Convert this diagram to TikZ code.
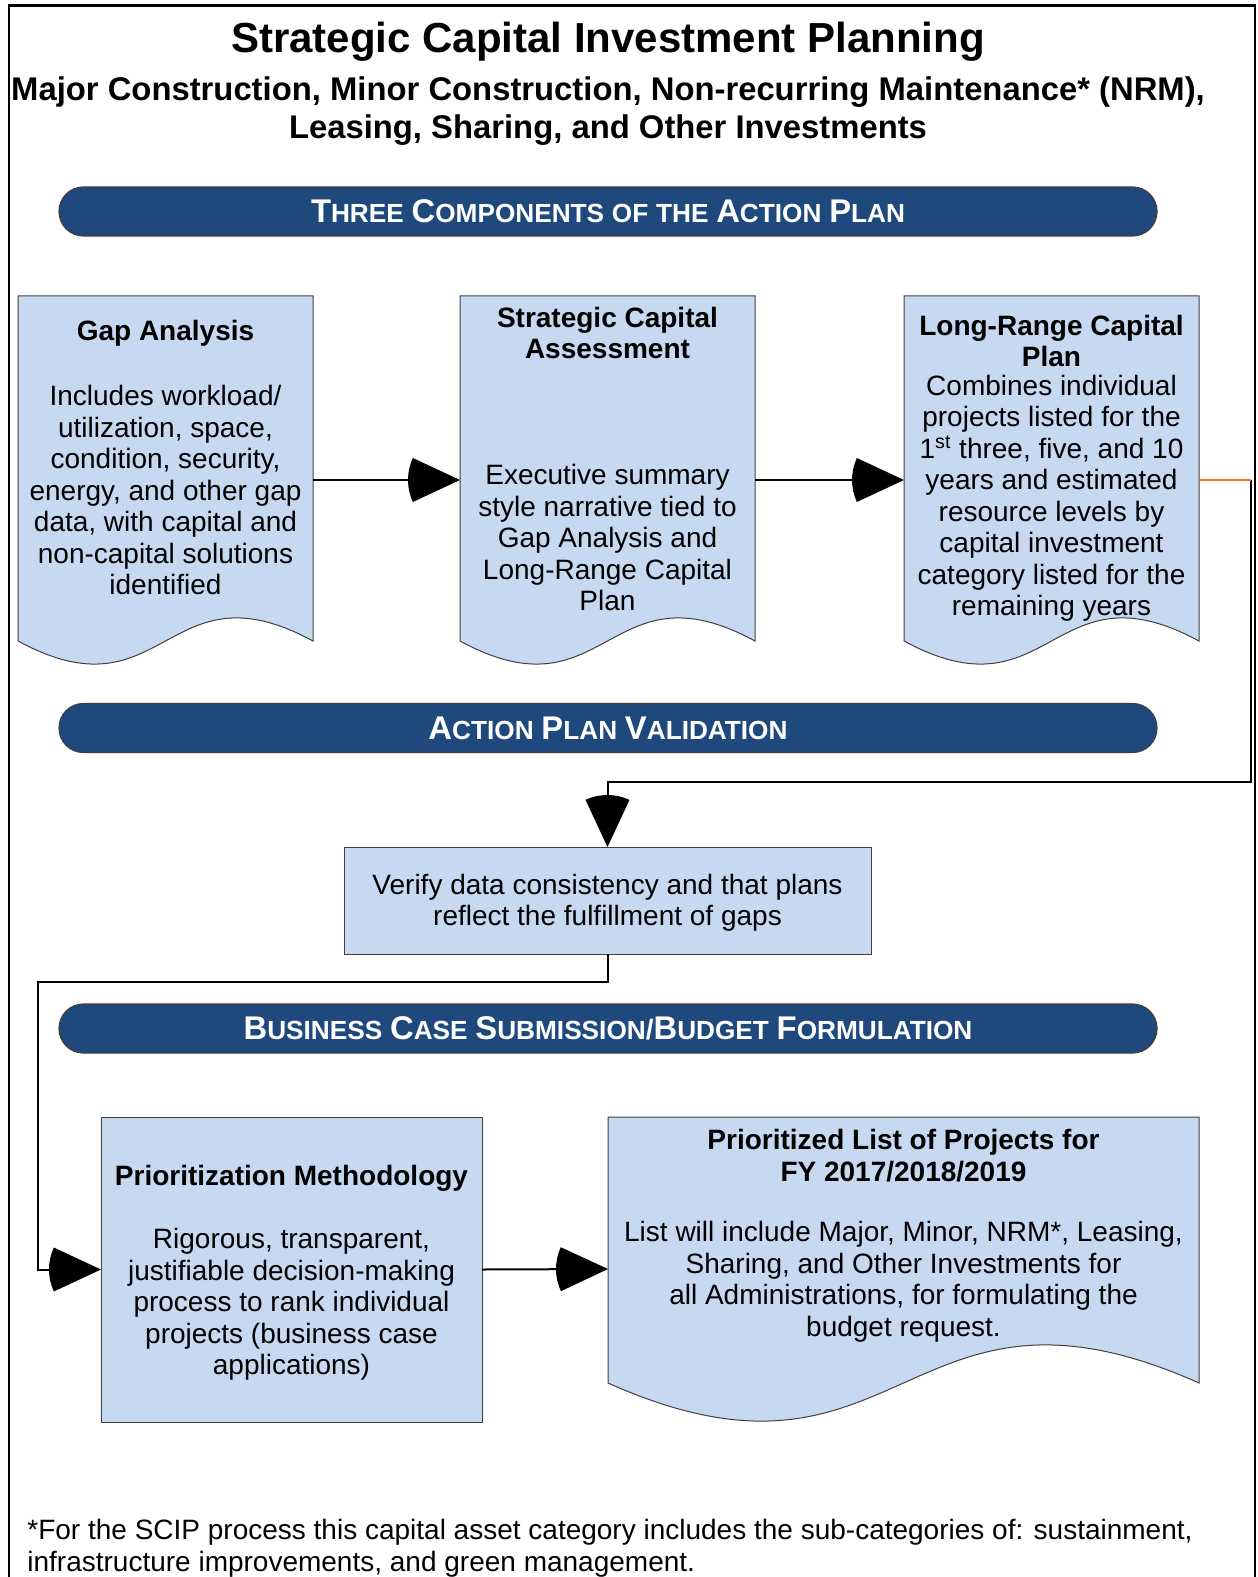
\documentclass[tikz,border=0pt]{standalone}
\usepackage{fontspec}
\setmainfont{Liberation Sans}
\usetikzlibrary{calc}
\newdimen\pu \pu=0.5pt
\definecolor{bannerblue}{RGB}{31,73,125}
\definecolor{boxblue}{RGB}{198,217,241}
\definecolor{edgegray}{RGB}{64,64,64}
\definecolor{linkorange}{RGB}{255,110,20}
\pgfdeclarearrow{
  name=Pie,
  setup code={
    \pgfarrowssettipend{0pt}
    \pgfarrowssetlineend{-20pt}
    \pgfarrowssetbackend{-26pt}
    \pgfarrowsupperhullpoint{-26pt}{11pt}
    \pgfarrowsupperhullpoint{0pt}{0pt}
  },
  drawing code={
    \pgfpathmoveto{\pgfpointorigin}
    \pgfpathlineto{\pgfpointpolar{155}{26pt}}
    \pgfpatharc{155}{205}{26pt}
    \pgfpathclose
    \pgfusepathqfill
  }
}
\newcommand\bigsc[2]{{\fontsize{16.4pt}{18pt}\selectfont#1}{\fontsize{13.1pt}{18pt}\selectfont#2}}
\newcommand\smallsc[1]{{\fontsize{13.1pt}{18pt}\selectfont#1}}
\newcommand\drawdoc[3]{%
  \filldraw[fill=boxblue, draw=edgegray, line width=0.5pt]
    (#1.north west) -- (#1.north east) -- ($(#1.south east)+(0,-#2)$)
    .. controls ($(#1.south)+(0,-#2-#3)$) and ($(#1.south)+(0,-#2+#3)$) ..
    ($(#1.south west)+(0,-#2)$) -- cycle;}
\tikzset{
  shapebox/.style={inner sep=0pt, outer sep=0pt},
  plainbox/.style={shapebox, fill=boxblue, draw=edgegray, line width=0.5pt},
  body/.style={font=\fontsize{14pt}{15.75pt}\selectfont, align=center, inner sep=0pt},
  head/.style={font=\fontsize{14pt}{15.75pt}\selectfont\bfseries, align=center, inner sep=0pt},
  conn/.style={line width=1pt, -Pie},
  banner/.style={fill=bannerblue, draw=edgegray, line width=0.6pt, rounded corners=12.2pt,
    minimum width=1098\pu, minimum height=49\pu, inner sep=0pt, text=white,
    font=\fontsize{14pt}{18pt}\selectfont\bfseries},
}
\begin{document}
\begin{tikzpicture}[x=0.5pt, y=-0.5pt]
\useasboundingbox (0,0) rectangle (1257,1577);
% frame
\draw[line width=1.3pt] (9,1600) -- (9,5.5) -- (1255,5.5) -- (1255,1600);
% titles
\node[font=\fontsize{21pt}{25pt}\selectfont\bfseries, inner sep=0pt] (title) at (608,41.5) {Strategic Capital Investment Planning};
\node[font=\fontsize{16.4pt}{18.6pt}\selectfont\bfseries, align=center, inner sep=0pt] (subtitle) at (608,111)
  {Major Construction, Minor Construction, Non-recurring Maintenance* (NRM),\\Leasing, Sharing, and Other Investments};
% banners
\node[banner] (b1) at (608,211.5) {\bigsc{T}{HREE} \bigsc{C}{OMPONENTS} \smallsc{OF} \smallsc{THE} \bigsc{A}{CTION} \bigsc{P}{LAN}};
\node[banner] (b2) at (608,728) {\bigsc{A}{CTION} \bigsc{P}{LAN} \bigsc{V}{ALIDATION}};
\node[banner] (b3) at (608,1028.5) {\bigsc{B}{USINESS} \bigsc{C}{ASE} \bigsc{S}{UBMISSION}/\bigsc{B}{UDGET} \bigsc{F}{ORMULATION}};
% shape nodes
\node[shapebox, minimum width=295\pu, minimum height=368\pu] (gap) at (165.5,480) {};
\node[shapebox, minimum width=295\pu, minimum height=368\pu] (sca) at (607.5,480) {};
\node[shapebox, minimum width=295\pu, minimum height=368\pu] (lrcp) at (1051.5,480) {};
\node[shapebox, minimum width=591\pu, minimum height=304\pu] (plist) at (903.5,1269) {};
\drawdoc{gap}{23}{80}
\drawdoc{sca}{23}{80}
\drawdoc{lrcp}{23}{80}
\drawdoc{plist}{38}{132}
\node[plainbox, minimum width=527\pu, minimum height=107\pu] (verify) at (607.5,900.5) {};
\node[plainbox, minimum width=381\pu, minimum height=305\pu] (prio) at (291.5,1269.5) {};
% texts
\node[head] (gapt) at (165.5,333.5) {Gap Analysis};
\node[body] (gapb) at (165.5,490) {Includes workload/\\utilization, space,\\condition, security,\\energy, and other gap\\data, with capital and\\non-capital solutions\\identified};
\node[head] (scat) at (607.5,333) {Strategic Capital\\Assessment};
\node[body] (scab) at (607.5,537.5) {Executive summary\\style narrative tied to\\Gap Analysis and\\Long-Range Capital\\Plan};
\node[head] (lrcpt) at (1051.5,341) {Long-Range Capital\\Plan};
\node[body] (lrcpb) at (1051.5,498.5) {Combines individual\\projects listed for the\\1\textsuperscript{st} three, five, and 10\\years and estimated\\resource levels by\\capital investment\\category listed for the\\remaining years};
\node[body] (verifyt) at (607.5,903) {Verify data consistency and that plans\\reflect the fulfillment of gaps};
\node[head] (priot) at (291.5,1178) {Prioritization Methodology};
\node[body] (priob) at (291.5,1304.3) {Rigorous, transparent,\\justifiable decision-making\\process to rank individual\\projects (business case\\applications)};
\node[head] (plistt) at (903.5,1155.5) {Prioritized List of Projects for\\FY 2017/2018/2019};
\node[body] (plistb) at (903.5,1281.5) {List will include Major, Minor, NRM*, Leasing,\\Sharing, and Other Investments for\\all Administrations, for formulating the\\budget request.};
\node[font=\fontsize{14pt}{16.1pt}\selectfont, align=left, anchor=west, inner sep=0pt] (foot) at (27,1548.1)
  {*For the SCIP process this capital asset category includes the sub-categories of: sustainment,\\infrastructure improvements, and green management.};
% connectors
\draw[conn] (gap.east) -- (sca.west);
\draw[conn] (sca.east) -- (lrcp.west);
\coordinate (r1) at (1251,480);
\coordinate (r2) at (1251,782);
\draw[conn] (r1) -- (r2) -| (verify.north);
\draw[line width=1.2pt, linkorange] (lrcp.east) -- (r1);
\coordinate (l1) at (38,982);
\draw[conn] (verify.south) |- (l1) |- (prio.west);
\draw[conn] (prio.east) -- (plist.west);
\end{tikzpicture}
\end{document}
